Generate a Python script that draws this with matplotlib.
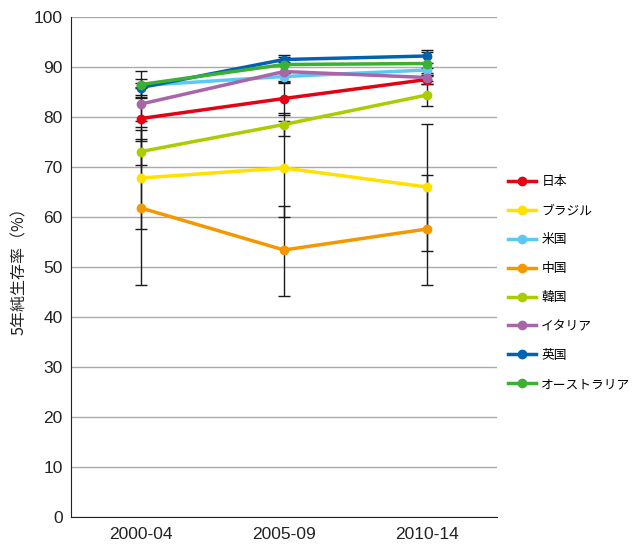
import matplotlib
matplotlib.use("Agg")
import matplotlib.pyplot as plt
import numpy as np

plt.rcParams['font.family'] = ['Noto Sans CJK JP', 'DejaVu Sans']

periods = ["2000-04", "2005-09", "2010-14"]
countries = ["日本", "ブラジル", "米国", "中国", "韓国", "イタリア", "英国", "オーストラリア"]
colors = ["#e60012", "#ffe100", "#5bc8f5", "#f39800", "#aacc00", "#a865a8", "#0062b1", "#3cb034"]

# 5-year net survival (%)
japan = [79.7, 83.7, 87.5]
brazil = [67.8, 69.8, 66.0]
usa = [86.3, 88.1, 89.4]
china = [61.8, 53.4, 57.6]
korea = [73.1, 78.5, 84.4]
italy = [82.6, 89.1, 87.9]
uk = [85.9, 91.5, 92.2]
australia = [86.5, 90.5, 90.7]

# 95% confidence limits
japan_lo, japan_hi = [75.3, 80.5, 86.7], [84.1, 86.9, 88.3]
brazil_lo, brazil_hi = [57.6, 60.0, 53.2], [78.0, 79.3, 78.6]
usa_lo, usa_hi = [85.8, 87.3, 88.9], [86.8, 88.9, 89.9]
china_lo, china_hi = [46.5, 44.3, 46.4], [77.4, 62.3, 68.5]
korea_lo, korea_hi = [70.5, 76.2, 82.2], [75.7, 80.9, 86.7]
italy_lo, italy_hi = [79.2, 87.1, 87.3], [86.0, 91.1, 88.5]
uk_lo, uk_hi = [84.4, 90.5, 90.9], [87.7, 92.5, 93.5]
australia_lo, australia_hi = [83.9, 88.9, 88.5], [89.2, 92.1, 93.1]

series = [japan, brazil, usa, china, korea, italy, uk, australia]
lows = [japan_lo, brazil_lo, usa_lo, china_lo, korea_lo, italy_lo, uk_lo, australia_lo]
highs = [japan_hi, brazil_hi, usa_hi, china_hi, korea_hi, italy_hi, uk_hi, australia_hi]

fig = plt.figure(figsize=(6.35, 5.49), dpi=100)
ax = fig.add_axes([71 / 635, 1 - 517 / 549, (497 - 71) / 635, (517 - 17) / 549])

x = np.arange(len(periods))

for vals, lo, hi in zip(series, lows, highs):
    v = np.array(vals)
    yerr = np.vstack([v - np.array(lo), np.array(hi) - v])
    ax.errorbar(x, v, yerr=yerr, fmt='none', ecolor='#1a1a1a', elinewidth=1.0,
                capsize=4.5, capthick=1.0, zorder=2)

for name, vals, c in zip(countries, series, colors):
    ax.plot(x, vals, color=c, lw=2.5, marker='o', ms=6, label=name, zorder=3)

ax.set_xlim(-0.49, 2.49)
ax.set_ylim(0, 100)
ax.set_yticks(np.arange(0, 101, 10))
ax.set_xticks(x)
ax.set_xticklabels(periods)
ax.yaxis.grid(True, color='#aaaaaa', lw=1.0)
ax.set_axisbelow(True)
for s in ['top', 'right']:
    ax.spines[s].set_visible(False)
ax.spines['left'].set_color('#222222')
ax.spines['bottom'].set_color('#222222')
ax.tick_params(axis='both', length=0, labelsize=12.5, colors='#222222')
ax.tick_params(axis='x', pad=7)
ax.tick_params(axis='y', pad=6)
for lab in ax.get_xticklabels() + ax.get_yticklabels():
    lab.set_family(['Liberation Sans', 'DejaVu Sans'])
ax.set_ylabel("5年純生存率（%）", fontsize=11.5, color='#222222', labelpad=4)

leg = fig.legend(loc='upper left', bbox_to_anchor=(503 / 635, 1 - 170 / 549),
                 frameon=False, fontsize=9.2, handlelength=2.2, handletextpad=0.4,
                 labelspacing=1.25, borderaxespad=0)

fig.savefig("out.png", dpi=100)
